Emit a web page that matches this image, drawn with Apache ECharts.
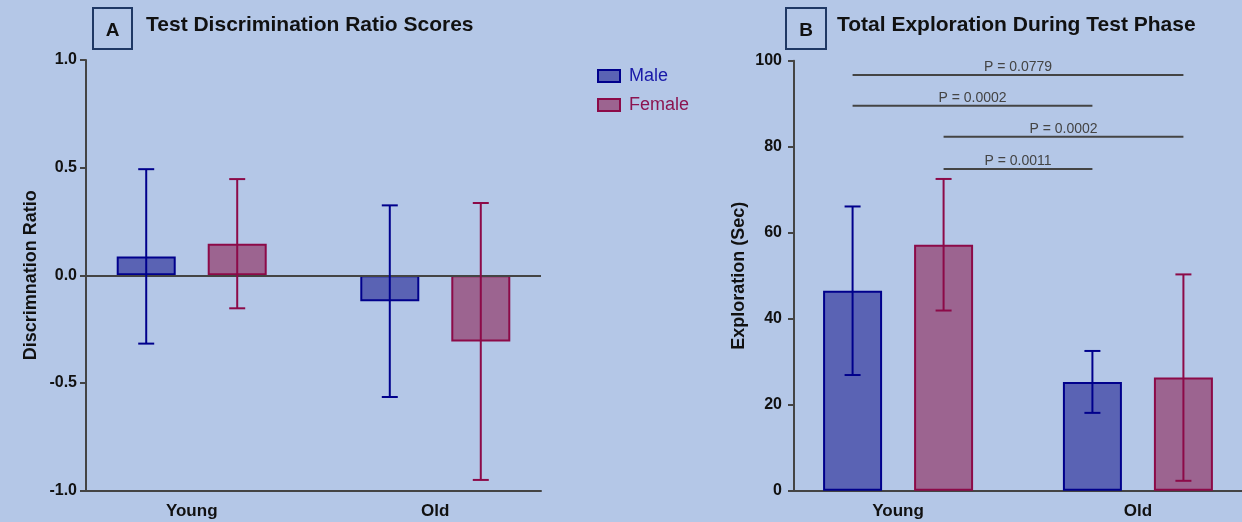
<!DOCTYPE html>
<html>
<head>
<meta charset="utf-8">
<script src="https://cdn.jsdelivr.net/npm/echarts@6/dist/echarts.min.js"></script>
<style>
html, body { margin: 0; padding: 0; background: #b4c7e7; }
#chart { width: 1242px; height: 522px; }
</style>
</head>
<body>
<div id="chart"></div>
<script>
// data
var categories = ['Young', 'Old'];
var ratioMale = [0.088, -0.12];
var ratioMaleErr = [0.405, 0.445];
var ratioFemale = [0.147, -0.307];
var ratioFemaleErr = [0.30, 0.643];
var explMale = [46.5, 25.3];
var explMaleErr = [19.6, 7.2];
var explFemale = [57.2, 26.3];
var explFemaleErr = [15.3, 24.0];
// p-value brackets: [category, sex(0 male / 1 female)]
var pLabels = ['P = 0.0779', 'P = 0.0002', 'P = 0.0002', 'P = 0.0011'];
var pLevels = [96.7, 89.5, 82.3, 74.8];
var pFrom = [[0, 0], [0, 0], [0, 1], [0, 1]];
var pTo = [[1, 1], [1, 0], [1, 1], [1, 0]];

var FONT = 'Liberation Sans, Arial, sans-serif';
var maleFill = '#5a63b4', maleLine = '#00008c';
var femaleFill = '#9c6490', femaleLine = '#8c0a48';
var axisColor = '#444';
var barW = 59, barGapPx = 32;
var barOffset = (barW + barGapPx) / 2;
var capHalf = 8;

var chart = echarts.init(document.getElementById('chart'));

function toPairs(arr) {
    return arr.map(function (v, i) { return [i, v]; });
}
function toErr(mean, err) {
    return mean.map(function (v, i) { return [i, v, err[i]]; });
}

function errorBar(sign, color) {
    return function (params, api) {
        var c = api.value(0), m = api.value(1), e = api.value(2);
        var top = api.coord([c, m + e]);
        var bot = api.coord([c, m - e]);
        var x = top[0] + sign * barOffset;
        var st = { stroke: color, lineWidth: 2 };
        return {
            type: 'group',
            children: [
                { type: 'line', shape: { x1: x, y1: top[1], x2: x, y2: bot[1] }, style: st },
                { type: 'line', shape: { x1: x - capHalf, y1: top[1], x2: x + capHalf, y2: top[1] }, style: st },
                { type: 'line', shape: { x1: x - capHalf, y1: bot[1], x2: x + capHalf, y2: bot[1] }, style: st }
            ]
        };
    };
}

function pBracket(params, api) {
    var i = api.value(3);
    var y = api.value(1);
    var a = api.coord([api.value(0), y]);
    var b = api.coord([api.value(2), y]);
    var x1 = a[0] + (pFrom[i][1] ? 1 : -1) * barOffset;
    var x2 = b[0] + (pTo[i][1] ? 1 : -1) * barOffset;
    return {
        type: 'group',
        children: [
            { type: 'line', shape: { x1: x1, y1: a[1], x2: x2, y2: a[1] }, style: { stroke: axisColor, lineWidth: 2 } },
            {
                type: 'text', x: (x1 + x2) / 2, y: a[1] - 1,
                style: { text: pLabels[i], fill: '#444', font: '14px ' + FONT, align: 'center', verticalAlign: 'bottom' }
            }
        ]
    };
}

function xAxisCfg(gridIndex) {
    return {
        type: 'value', gridIndex: gridIndex, min: -0.434, max: 1.434,
        splitLine: { show: false },
        axisLine: { onZero: false, lineStyle: { color: axisColor, width: 2 } },
        axisTick: { show: false },
        axisLabel: {
            customValues: [0, 1], margin: 12,
            color: '#111', fontWeight: 'bold', fontSize: 17, fontFamily: FONT,
            formatter: function (v) { return categories[Math.round(v)]; }
        }
    };
}

function yAxisCfg(gridIndex, name, min, max, interval, digits, margin) {
    return {
        type: 'value', gridIndex: gridIndex, min: min, max: max, interval: interval,
        name: name, nameLocation: 'middle', nameGap: 46,
        nameTextStyle: { color: '#111', fontWeight: 'bold', fontSize: 18, fontFamily: FONT },
        splitLine: { show: false },
        axisLine: { show: true, onZero: false, lineStyle: { color: axisColor, width: 2 } },
        axisTick: { show: true, length: 6, lineStyle: { color: axisColor, width: 2 } },
        axisLabel: {
            margin: margin, color: '#111', fontWeight: 'bold', fontSize: 16, fontFamily: FONT,
            formatter: function (v) { return v.toFixed(digits); }
        }
    };
}

function barSeries(name, idx, data, fill, line, extra) {
    var s = {
        type: 'bar', name: name, xAxisIndex: idx, yAxisIndex: idx,
        data: data, barWidth: barW, barGap: (barGapPx / barW * 100) + '%',
        itemStyle: { color: fill, borderColor: line, borderWidth: 2 },
        emphasis: { disabled: true }
    };
    if (extra) Object.assign(s, extra);
    return s;
}

function errSeries(idx, data, sign, color) {
    return {
        type: 'custom', xAxisIndex: idx, yAxisIndex: idx, z: 5,
        renderItem: errorBar(sign, color), data: data,
        encode: { x: 0, y: [1] }, clip: false, silent: true
    };
}

var option = {
    backgroundColor: '#b4c7e7',
    animation: false,
    grid: [
        { left: 86, right: 701, top: 60, bottom: 31.3 },
        { left: 794, right: -4, top: 60.7, bottom: 31.3 }
    ],
    xAxis: [xAxisCfg(0), xAxisCfg(1)],
    yAxis: [
        yAxisCfg(0, 'Discrimnation Ratio', -1, 1, 0.5, 1, 9),
        yAxisCfg(1, 'Exploration (Sec)', 0, 100, 20, 0, 12)
    ],
    legend: {
        orient: 'vertical', left: 592, top: 62,
        itemWidth: 22, itemHeight: 12, itemGap: 11, icon: 'rect',
        textStyle: { fontSize: 18, fontFamily: FONT, padding: [0, 0, 0, 4] },
        data: [
            { name: 'Male', textStyle: { color: '#1818a8' } },
            { name: 'Female', textStyle: { color: '#8c1450' } }
        ]
    },
    graphic: [
        { type: 'rect', shape: { x: 93, y: 8, width: 39, height: 41 }, style: { fill: 'none', stroke: '#1f3864', lineWidth: 2 } },
        { type: 'text', x: 112.5, y: 31, style: { text: 'A', font: 'bold 19px ' + FONT, fill: '#111', align: 'center', verticalAlign: 'middle' } },
        { type: 'text', x: 146, y: 25, style: { text: 'Test Discrimination Ratio Scores', font: 'bold 21px ' + FONT, fill: '#111', verticalAlign: 'middle' } },
        { type: 'rect', shape: { x: 786, y: 8, width: 40, height: 41 }, style: { fill: 'none', stroke: '#1f3864', lineWidth: 2 } },
        { type: 'text', x: 806, y: 31, style: { text: 'B', font: 'bold 19px ' + FONT, fill: '#111', align: 'center', verticalAlign: 'middle' } },
        { type: 'text', x: 837, y: 25, style: { text: 'Total Exploration During Test Phase', font: 'bold 21px ' + FONT, fill: '#111', verticalAlign: 'middle' } }
    ],
    series: [
        barSeries('Male', 0, toPairs(ratioMale), maleFill, maleLine, {
            markLine: {
                silent: true, symbol: 'none', label: { show: false },
                lineStyle: { color: axisColor, width: 2, type: 'solid' },
                data: [{ yAxis: 0 }]
            }
        }),
        barSeries('Female', 0, toPairs(ratioFemale), femaleFill, femaleLine),
        errSeries(0, toErr(ratioMale, ratioMaleErr), -1, maleLine),
        errSeries(0, toErr(ratioFemale, ratioFemaleErr), 1, femaleLine),
        barSeries('Male', 1, toPairs(explMale), maleFill, maleLine),
        barSeries('Female', 1, toPairs(explFemale), femaleFill, femaleLine),
        errSeries(1, toErr(explMale, explMaleErr), -1, maleLine),
        errSeries(1, toErr(explFemale, explFemaleErr), 1, femaleLine),
        {
            type: 'custom', xAxisIndex: 1, yAxisIndex: 1, z: 5, silent: true, clip: false,
            renderItem: pBracket,
            encode: { x: [0, 2], y: 1 },
            data: pLevels.map(function (y, i) { return [pFrom[i][0], y, pTo[i][0], i]; })
        }
    ]
};

chart.setOption(option);
</script>
</body>
</html>
